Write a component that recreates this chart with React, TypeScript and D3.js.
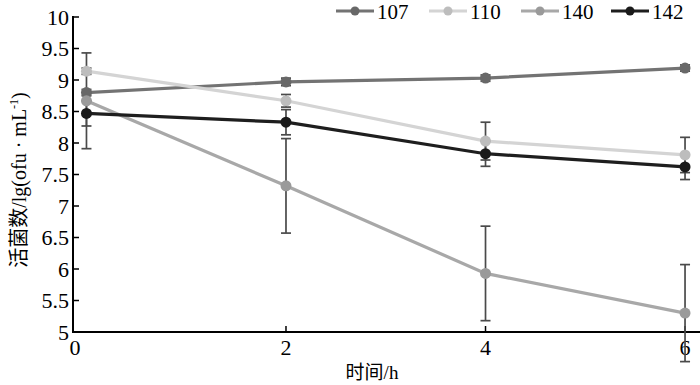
import React from "react";
import * as d3 from "d3";

const times = [0, 2, 4, 6];
const seriesNames = ["107", "110", "140", "142"];
const s107 = [8.8, 8.97, 9.03, 9.19];
const e107 = [0.05, 0.06, 0.05, 0.05];
const s110 = [9.14, 8.67, 8.03, 7.81];
const e110 = [0.05, 0.1, 0.3, 0.28];
const s140 = [8.67, 7.32, 5.93, 5.3];
const e140 = [0.76, 0.75, 0.75, 0.77];
const s142 = [8.47, 8.33, 7.83, 7.62];
const e142 = [0.2, 0.2, 0.2, 0.2];
const yTicks = [5, 5.5, 6, 6.5, 7, 7.5, 8, 8.5, 9, 9.5, 10];
const xTicks = [2, 4, 6];

const lineColors = ["#737373", "#d4d4d4", "#a8a8a8", "#1e1e1e"];
const markColors = ["#686868", "#bdbdbd", "#9a9a9a", "#1a1a1a"];

const values = [s107, s110, s140, s142];
const errors = [e107, e110, e140, e142];

const FONT = "'Liberation Serif', 'DejaVu Serif', serif";
const CJK = "'Noto Sans CJK SC', sans-serif";

export default function App() {
  const x = d3.scaleLinear().domain([-0.135, 6.15]).range([73, 700]);
  const y = d3.scaleLinear().domain([5, 10]).range([332, 17]);
  const line = d3
    .line<number>()
    .x((_, i) => x(times[i]))
    .y((v) => y(v));

  const legendTextX = [377, 470, 562, 652];

  return (
    <svg
      width={700}
      height={385}
      style={{ position: "absolute", left: 0, top: 0, background: "#fff" }}
    >
      {/* axes */}
      <line x1={73} y1={y(10) - 1} x2={73} y2={y(5)} stroke="#000" strokeWidth={2} />
      <line x1={72} y1={y(5)} x2={700} y2={y(5)} stroke="#000" strokeWidth={2} />
      {yTicks.map((t) => (
        <g key={t}>
          <line x1={73} x2={79} y1={y(t)} y2={y(t)} stroke="#000" strokeWidth={1.5} />
          <text
            x={69}
            y={y(t)}
            dy="0.36em"
            textAnchor="end"
            fontFamily={FONT}
            fontSize={22}
            fill="#000"
          >
            {t}
          </text>
        </g>
      ))}
      {xTicks.map((t) => (
        <g key={t}>
          <line x1={x(t)} x2={x(t)} y1={y(5)} y2={y(5) - 6} stroke="#000" strokeWidth={1.5} />
          <text
            x={x(t)}
            y={355}
            textAnchor="middle"
            fontFamily={FONT}
            fontSize={22}
            fill="#000"
          >
            {t}
          </text>
        </g>
      ))}
      <text x={75} y={355} textAnchor="middle" fontFamily={FONT} fontSize={22} fill="#000">
        0
      </text>

      {/* axis titles */}
      <text
        transform={`translate(26, 180) rotate(-90)`}
        textAnchor="middle"
        fontSize={20}
        fill="#000"
      >
        <tspan fontFamily={CJK}>活菌数</tspan>
        <tspan fontFamily={FONT}>/lg(ofu · mL</tspan>
        <tspan fontFamily={FONT} fontSize={12} dy={-8}>
          -1
        </tspan>
        <tspan fontFamily={FONT} dy={8}>
          )
        </tspan>
      </text>
      <text x={372} y={379} textAnchor="middle" fontSize={19} fill="#000">
        <tspan fontFamily={CJK}>时间</tspan>
        <tspan fontFamily={FONT}>/h</tspan>
      </text>

      {/* series */}
      {values.map((vals, si) => (
        <g key={seriesNames[si]}>
          <path d={line(vals) || ""} fill="none" stroke={lineColors[si]} strokeWidth={3.2} />
        </g>
      ))}
      {values.map((vals, si) => (
        <g key={"e" + seriesNames[si]}>
          {vals.map((v, i) => {
            const cx = x(times[i]);
            const e = errors[si][i];
            return (
              <g key={i} stroke="#4a4a4a" strokeWidth={1.7}>
                <line x1={cx} x2={cx} y1={y(v + e)} y2={y(v - e)} />
                <line x1={cx - 5} x2={cx + 5} y1={y(v + e)} y2={y(v + e)} />
                <line x1={cx - 5} x2={cx + 5} y1={y(v - e)} y2={y(v - e)} />
              </g>
            );
          })}
        </g>
      ))}
      {values.map((vals, si) => (
        <g key={"m" + seriesNames[si]}>
          {vals.map((v, i) => (
            <circle key={i} cx={x(times[i])} cy={y(v)} r={5.5} fill={markColors[si]} />
          ))}
        </g>
      ))}

      {/* legend */}
      {seriesNames.map((n, si) => {
        const tx = legendTextX[si];
        return (
          <g key={"l" + n}>
            <line x1={tx - 41} x2={tx - 3} y1={11} y2={11} stroke={lineColors[si]} strokeWidth={3} />
            <circle cx={tx - 22} cy={11} r={4.5} fill={markColors[si]} />
            <text x={tx} y={19} fontFamily={FONT} fontSize={21} fill="#000">
              {n}
            </text>
          </g>
        );
      })}
    </svg>
  );
}
